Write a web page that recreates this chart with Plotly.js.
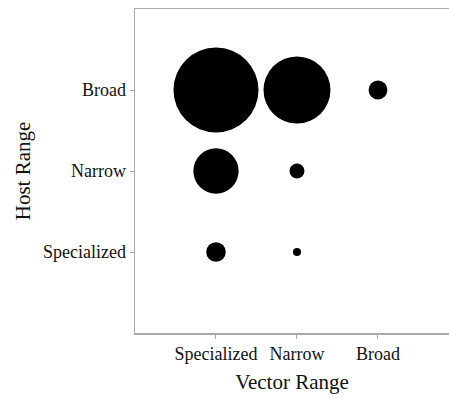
<!DOCTYPE html>
<html>
<head>
<meta charset="utf-8">
<script src="https://cdn.plot.ly/plotly-3.0.1.min.js"></script>
<style>html,body{margin:0;padding:0;background:#fff;}#chart{width:449px;height:400px;}</style>
</head>
<body>
<div id="chart"></div>
<script>
const rangeLabels = ["Specialized", "Narrow", "Broad"];
const vectorRange = ["Specialized", "Narrow", "Broad", "Specialized", "Narrow", "Specialized", "Narrow"];
const hostRange   = ["Broad", "Broad", "Broad", "Narrow", "Narrow", "Specialized", "Specialized"];
const counts      = [113, 70, 5.5, 32, 3.5, 6, 1];

const xVals = vectorRange.map(v => rangeLabels.indexOf(v));
const yVals = hostRange.map(v => rangeLabels.indexOf(v));

const trace = {
  type: "scatter",
  mode: "markers",
  x: xVals,
  y: yVals,
  marker: {
    size: counts,
    sizemode: "area",
    sizeref: 1 / 32,
    color: "#000",
    opacity: 1,
    line: { width: 0 }
  },
  hoverinfo: "skip"
};

const fontFam = "'Liberation Serif', 'Times New Roman', serif";
const txt = "#111";
const layout = {
  width: 449,
  height: 400,
  margin: { l: 135, r: 0, t: 9, b: 67 },
  paper_bgcolor: "#fff",
  plot_bgcolor: "#fff",
  showlegend: false,
  font: { family: fontFam, color: txt, size: 18 },
  xaxis: {
    range: [-1, 2.877],
    tickvals: [0, 1, 2],
    ticktext: rangeLabels,
    showgrid: false,
    zeroline: false,
    showline: true,
    mirror: true,
    linecolor: "#aaa",
    linewidth: 1.5,
    ticks: "outside",
    ticklen: 4,
    tickcolor: "#aaa",
    tickfont: { family: fontFam, size: 18, color: txt },
    title: { text: "Vector Range", font: { family: fontFam, size: 21, color: txt }, standoff: 11 },
    fixedrange: true
  },
  yaxis: {
    range: [-1, 3],
    tickvals: [0, 1, 2],
    ticktext: rangeLabels,
    showgrid: false,
    zeroline: false,
    showline: true,
    linecolor: "#aaa",
    linewidth: 1.5,
    ticks: "outside",
    ticklen: 4,
    tickcolor: "#aaa",
    tickfont: { family: fontFam, size: 18, color: txt },
    title: { text: "Host Range", font: { family: fontFam, size: 21, color: txt }, standoff: 6 },
    fixedrange: true
  }
};

Plotly.newPlot("chart", [trace], layout, { displayModeBar: false, staticPlot: true });
</script>
</body>
</html>
